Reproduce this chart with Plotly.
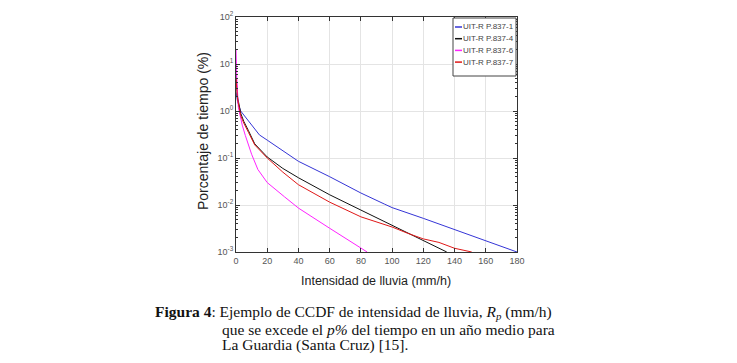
import plotly.graph_objects as go

# ---- data ----
series_names = ["UIT-R P.837-1", "UIT-R P.837-4", "UIT-R P.837-6", "UIT-R P.837-7"]
series_colors = ["#3535d6", "#111111", "#ff22ff", "#e01818"]

x_p837_1 = [0, 1, 3, 8, 15, 20, 30, 40, 60, 80, 95, 100, 120, 140, 160, 180]
y_p837_1 = [2.5, 1.6, 1.0, 0.6, 0.31, 0.24, 0.14, 0.085, 0.04, 0.018, 0.0105, 0.0088, 0.0052, 0.003, 0.0017, 0.001]

x_p837_4 = [0, 1, 3, 5, 8, 12, 20, 30, 40, 60, 80, 100, 110, 120, 135]
y_p837_4 = [6.0, 2.0, 0.9, 0.6, 0.38, 0.2, 0.105, 0.06, 0.038, 0.0165, 0.0078, 0.0037, 0.0025, 0.0017, 0.001]

x_p837_6 = [0, 0.5, 1.5, 4, 6, 10, 14, 20, 31, 40, 60, 80, 84]
y_p837_6 = [20, 5, 1.2, 0.5, 0.3, 0.12, 0.057, 0.03, 0.015, 0.0086, 0.0032, 0.0012, 0.001]

x_p837_7 = [0, 1, 3, 5, 8, 12, 20, 30, 40, 60, 80, 100, 110, 120, 130, 140, 151]
y_p837_7 = [5.0, 1.8, 0.8, 0.55, 0.35, 0.19, 0.1, 0.05, 0.027, 0.0115, 0.0056, 0.0034, 0.0025, 0.0019, 0.0016, 0.0012, 0.001]

xs = [x_p837_1, x_p837_4, x_p837_6, x_p837_7]
ys = [y_p837_1, y_p837_4, y_p837_6, y_p837_7]

x_ticks = [0, 20, 40, 60, 80, 100, 120, 140, 160, 180]
y_tick_exps = [-3, -2, -1, 0, 1, 2]

x_label = "Intensidad de lluvia (mm/h)"
y_label = "Porcentaje de tiempo (%)"
caption = [
    "<b>Figura 4</b>: Ejemplo de CCDF de intensidad de lluvia, <i>R<sub>p</sub></i> (mm/h)",
    "que se excede el <i>p%</i> del tiempo en un año medio para",
    "La Guardia (Santa Cruz) [15].",
]

# ---- layout geometry (screen pixels; page body adds an 8px offset) ----
W, H = 737, 363
OFF = 8
L, R, T, B = 236, 517, 17, 252
pw, ph = R - L, B - T

def px_x(p):
    return (p - L) / pw

def px_y(p):
    return (B - p) / ph

fig = go.Figure()
for name, color, x, y in zip(series_names, series_colors, xs, ys):
    fig.add_trace(go.Scatter(x=x, y=y, mode="lines", name=name,
                             line=dict(color=color, width=1), showlegend=False))

axis_common = dict(showline=True, linecolor="#333333", linewidth=1, mirror="ticks",
                   ticks="inside", ticklen=4, tickcolor="#333333",
                   showgrid=True, gridcolor="#e4e4e4", gridwidth=1, zeroline=False,
                   tickfont=dict(family="Liberation Sans", size=9, color="#555555"))

fig.update_layout(
    width=W, height=H,
    margin=dict(l=L - OFF, r=W - R + OFF, t=T - OFF, b=H - B + OFF, autoexpand=False),
    paper_bgcolor="white", plot_bgcolor="white",
    xaxis=dict(range=[0, 180], tickvals=x_ticks, **axis_common),
    yaxis=dict(type="log", range=[-3, 2],
               tickvals=[10 ** e for e in y_tick_exps],
               ticktext=[f"10<sup>{e}</sup>" for e in y_tick_exps],
               minor=dict(ticks="inside", ticklen=2, tickcolor="#333333", showgrid=False,
                          tickvals=[m * 10 ** e for e in y_tick_exps[:-1] for m in range(2, 10)]),
               **axis_common),
    showlegend=False,
)

# axis labels
fig.add_annotation(text=x_label, xref="paper", yref="paper", x=px_x(376), y=px_y(281),
                   xanchor="center", yanchor="middle", showarrow=False,
                   font=dict(family="Liberation Sans", size=12.5, color="#222222"))
fig.add_annotation(text=y_label, xref="paper", yref="paper", x=px_x(203), y=px_y(131),
                   xanchor="center", yanchor="middle", textangle=-90, showarrow=False,
                   font=dict(family="Liberation Sans", size=14, color="#222222"))

# custom compact legend
leg_l, leg_r, leg_t, leg_b = 453, 516, 18, 76
fig.add_shape(type="rect", xref="paper", yref="paper",
              x0=px_x(leg_l), x1=px_x(leg_r), y0=px_y(leg_b), y1=px_y(leg_t),
              line=dict(color="#444444", width=1), fillcolor="white", layer="above")
for i, (name, color) in enumerate(zip(series_names, series_colors)):
    yy = 27 + i * 11.7
    fig.add_shape(type="line", xref="paper", yref="paper",
                  x0=px_x(455), x1=px_x(462), y0=px_y(yy), y1=px_y(yy),
                  line=dict(color=color, width=1.5), layer="above")
    fig.add_annotation(text=name, xref="paper", yref="paper", x=px_x(461), y=px_y(yy),
                       xanchor="left", yanchor="middle", showarrow=False,
                       font=dict(family="Liberation Sans", size=8, color="#444444"))

# caption
cap_pos = [(153, 312), (220, 329), (220, 345)]
for text, (cx, cy) in zip(caption, cap_pos):
    fig.add_annotation(text=text, xref="paper", yref="paper", x=px_x(cx), y=px_y(cy),
                       xanchor="left", yanchor="middle", showarrow=False,
                       font=dict(family="Liberation Serif", size=15.5, color="#111111"))

fig.write_html("out.html")
